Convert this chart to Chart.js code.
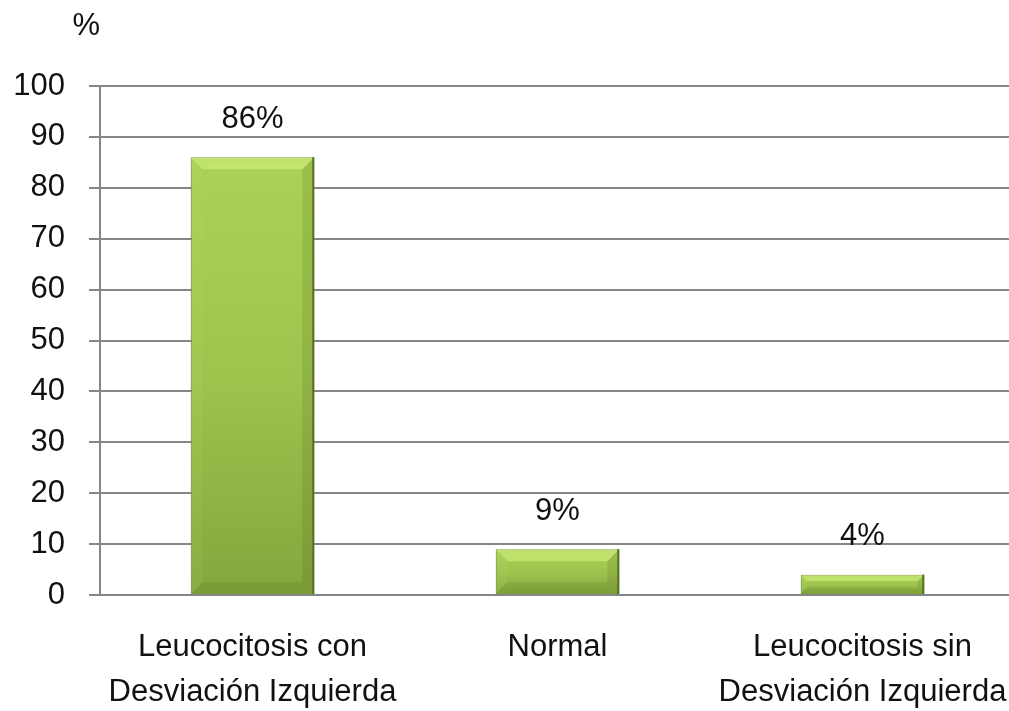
<!DOCTYPE html>
<html>
<head>
<meta charset="utf-8">
<script src="https://cdn.jsdelivr.net/npm/chart.js@4/dist/chart.umd.min.js"></script>
<style>
  html, body { margin: 0; padding: 0; background: #fff; overflow: hidden; }
  #wrap { width: 1015px; height: 711px; }
</style>
</head>
<body>
<div id="wrap"><canvas id="c" width="1015" height="711"></canvas></div>
<script>
const categories = [
  ["Leucocitosis con", "Desviación Izquierda"],
  ["Normal"],
  ["Leucocitosis sin", "Desviación Izquierda"]
];
const values = [86, 9, 4];
const valueLabels = ["86%", "9%", "4%"];
const yTicks = [0, 10, 20, 30, 40, 50, 60, 70, 80, 90, 100];
const yUnit = "%";

const FONT = "'Liberation Sans', Arial, sans-serif";

function barGradient(ctx) {
  const chart = ctx.chart;
  const ys = chart.scales && chart.scales.y;
  if (!ys || ctx.raw === undefined) return '#9fc44e';
  const top = ys.getPixelForValue(ctx.raw);
  const base = ys.getPixelForValue(0);
  if (!isFinite(top) || !isFinite(base) || top === base) return '#9fc44e';
  const g = chart.ctx.createLinearGradient(0, top, 0, base);
  g.addColorStop(0, '#abd257');
  g.addColorStop(0.5, '#9fc44e');
  g.addColorStop(1, '#84a63c');
  return g;
}

const shadowPlugin = {
  id: 'barShadow',
  beforeDatasetsDraw(chart) {
    const c = chart.ctx;
    c.save();
    c.shadowColor = 'rgba(0,0,0,0.3)';
    c.shadowBlur = 7;
    c.shadowOffsetX = 1;
    c.shadowOffsetY = 4;
  },
  afterDatasetsDraw(chart) {
    const c = chart.ctx;
    c.restore();
    const meta = chart.getDatasetMeta(0);
    meta.data.forEach((bar) => {
      const left = bar.x - bar.width / 2;
      const right = bar.x + bar.width / 2;
      const top = bar.y;
      const base = bar.base;
      const h = base - top;
      const bev = Math.min(12, h / 3);
      c.save();
      c.beginPath();
      c.moveTo(left, top);
      c.lineTo(right, top);
      c.lineTo(right - bev, top + bev);
      c.lineTo(left + bev, top + bev);
      c.closePath();
      const gt = c.createLinearGradient(0, top, 0, top + bev);
      gt.addColorStop(0, 'rgba(225,248,150,0.35)');
      gt.addColorStop(1, 'rgba(210,245,120,0.6)');
      c.fillStyle = gt;
      c.fill();
      c.beginPath();
      c.moveTo(left, top);
      c.lineTo(left + bev, top + bev);
      c.lineTo(left + bev, base - bev);
      c.lineTo(left, base);
      c.closePath();
      c.fillStyle = 'rgba(200,230,120,0.1)';
      c.fill();
      c.beginPath();
      c.moveTo(right, top);
      c.lineTo(right - bev, top + bev);
      c.lineTo(right - bev, base - bev);
      c.lineTo(right, base);
      c.closePath();
      c.fillStyle = 'rgba(60,80,20,0.14)';
      c.fill();
      c.beginPath();
      c.moveTo(left, base);
      c.lineTo(left + bev, base - bev);
      c.lineTo(right - bev, base - bev);
      c.lineTo(right, base);
      c.closePath();
      c.fillStyle = 'rgba(60,80,20,0.12)';
      c.fill();
      c.strokeStyle = '#56721e';
      c.lineWidth = 2;
      c.beginPath();
      c.moveTo(right - 1, top);
      c.lineTo(right - 1, base);
      c.stroke();
      c.restore();
    });
    c.save();
    c.font = '31px ' + FONT;
    c.fillStyle = '#111';
    c.textAlign = 'center';
    c.textBaseline = 'middle';
    meta.data.forEach((bar, i) => {
      c.fillText(valueLabels[i], bar.x, bar.y - 38);
    });
    c.textAlign = 'right';
    c.fillText(yUnit, chart.chartArea.left, 26);
    c.restore();
  }
};

new Chart(document.getElementById('c'), {
  type: 'bar',
  data: {
    labels: categories,
    datasets: [{
      data: values,
      backgroundColor: barGradient,
      borderColor: '#6c8a2c',
      borderWidth: 1,
      categoryPercentage: 1.0,
      barPercentage: 0.405
    }]
  },
  options: {
    responsive: false,
    animation: false,
    devicePixelRatio: 1,
    layout: { padding: { top: 86, right: 0, left: 0, bottom: 0 } },
    plugins: {
      legend: { display: false },
      tooltip: { enabled: false },
      title: { display: false }
    },
    scales: {
      x: {
        grid: { display: false, drawTicks: false },
        border: { display: false },
        ticks: {
          padding: 30,
          color: '#111',
          font: { family: FONT, size: 31, lineHeight: 1.45 },
          maxRotation: 0,
          autoSkip: false
        },
        afterFit(scale) {
          scale.height = 116;
          scale.paddingLeft = 0;
          scale.paddingRight = 0;
        }
      },
      y: {
        min: 0,
        max: 100,
        afterBuildTicks(scale) { scale.ticks = yTicks.map(v => ({ value: v })); },
        grid: {
          color: '#868686',
          lineWidth: 2,
          tickLength: 11,
          drawTicks: true
        },
        border: { display: true, color: '#868686', width: 2 },
        ticks: {
          padding: 24,
          color: '#111',
          font: { family: FONT, size: 31 }
        },
        afterFit(scale) {
          scale.width = 100;
          scale.paddingTop = 0;
          scale.paddingBottom = 0;
        }
      }
    }
  },
  plugins: [shadowPlugin]
});
</script>
</body>
</html>
